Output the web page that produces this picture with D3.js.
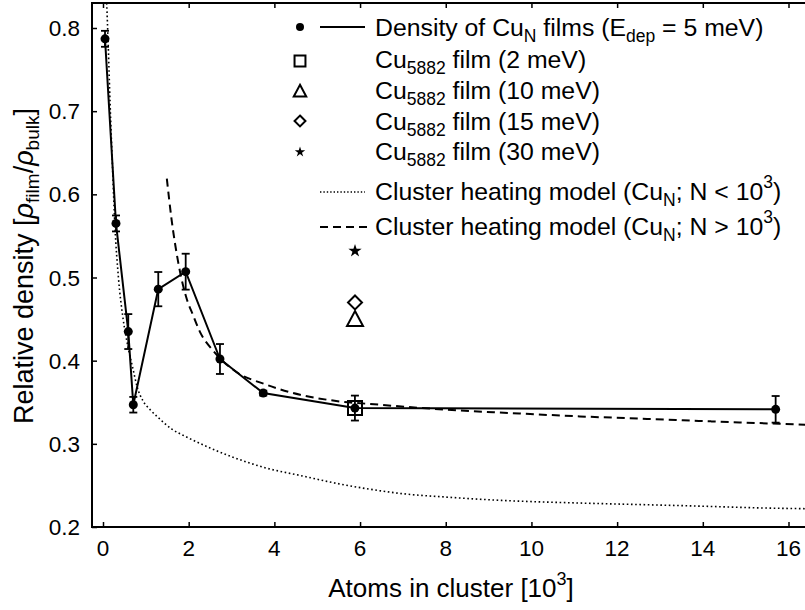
<!DOCTYPE html>
<html>
<head>
<meta charset="utf-8">
<script src="https://cdn.jsdelivr.net/npm/d3@7"></script>
<style>
  html, body { margin: 0; padding: 0; background: #fff; }
  svg { display: block; font-family: "Liberation Sans", Arial, Helvetica, sans-serif; }
</style>
</head>
<body>
<svg id="chart" width="805" height="610"></svg>
<script>
// ---- data ----
const clusterSize = [0.047, 0.303, 0.59, 0.707, 1.29, 1.93, 2.73, 3.74, 5.88, 15.70];   // 10^3 atoms
const density     = [0.787, 0.565, 0.435, 0.347, 0.486, 0.507, 0.402, 0.361, 0.343, 0.3415];
const densityErr  = [0.0096, 0.0096, 0.021, 0.0094, 0.0206, 0.0216, 0.018, 0.003, 0.015, 0.016];

const energyLabels = ["2 meV", "10 meV", "15 meV", "30 meV"];
const energyN      = [5.882, 5.882, 5.882, 5.882];
const energyDens   = [0.343, 0.450, 0.470, 0.532];
const energySymbol = ["square", "triangle", "diamond", "star"];

const modelSmallN = [0.086,0.117,0.165,0.22,0.28,0.36,0.47,0.59,0.70,0.80,0.93,1.1,1.26,1.6,1.96,2.5,3.03,3.8,4.6,5.4,6.16,7.0,8.0,9.3,11,12.5,14,15.3,16.4];
const modelSmallY = [0.83,0.787,0.71,0.635,0.56,0.50,0.45,0.415,0.39,0.368,0.352,0.341,0.333,0.318,0.308,0.295,0.284,0.271,0.262,0.253,0.246,0.240,0.236,0.232,0.229,0.227,0.225,0.223,0.222];

const modelLargeN = [1.49,1.6,1.76,1.95,2.1,2.26,2.57,3.04,3.82,4.6,5.37,6.47,8.02,9.5,11.13,12.7,14.2,16.4];
const modelLargeY = [0.619,0.57,0.517,0.475,0.455,0.435,0.412,0.389,0.371,0.359,0.352,0.347,0.341,0.337,0.333,0.330,0.327,0.323];

const xTicks = [0, 2, 4, 6, 8, 10, 12, 14, 16];
const yTicks = [0.2, 0.3, 0.4, 0.5, 0.6, 0.7, 0.8];

// ---- layout ----
const svg = d3.select("#chart");
const pLeft = 92, pRight = 805, pTop = 3, pBottom = 527;
const x = d3.scaleLinear().domain([0, 16]).range([103, 788.5]);
const y = d3.scaleLinear().domain([0.2, 0.8]).range([527, 28]);

svg.append("defs").append("clipPath").attr("id", "clip")
  .append("rect").attr("x", pLeft).attr("y", pTop).attr("width", pRight - pLeft).attr("height", pBottom - pTop);

// frame
svg.append("path").attr("d", `M${pRight},${pTop}H${pLeft}V${pBottom}H${pRight}`)
  .attr("stroke", "#000").attr("stroke-width", 2).attr("fill", "none");

// axes (ticks inward)
const gxB = svg.append("g").attr("transform", `translate(0,${pBottom})`)
  .call(d3.axisTop(x).tickValues(xTicks).tickSize(5).tickFormat(""));
gxB.select(".domain").remove();
const gxT = svg.append("g").attr("transform", `translate(0,${pTop})`)
  .call(d3.axisBottom(x).tickValues(xTicks).tickSize(5).tickFormat(""));
gxT.select(".domain").remove();
const gyL = svg.append("g").attr("transform", `translate(${pLeft},0)`)
  .call(d3.axisRight(y).tickValues(yTicks).tickSize(5).tickFormat(""));
gyL.select(".domain").remove();
svg.selectAll(".tick line").attr("stroke", "#000").attr("stroke-width", 1.5);

// tick labels
svg.append("g").selectAll("text").data(xTicks).join("text")
  .attr("x", d => x(d)).attr("y", 556).attr("text-anchor", "middle")
  .attr("font-size", 22.5).text(d => d);
svg.append("g").selectAll("text").data(yTicks).join("text")
  .attr("x", 80).attr("y", d => y(d) + 8).attr("text-anchor", "end")
  .attr("font-size", 22.5).text(d => d.toFixed(1));

// axis titles
const xt = svg.append("text").attr("x", 451).attr("y", 597).attr("text-anchor", "middle").attr("font-size", 26);
xt.append("tspan").text("Atoms in cluster [10");
xt.append("tspan").attr("dy", -12).attr("font-size", 18).text("3");
xt.append("tspan").attr("dy", 12).text("]");

const yt = svg.append("text").attr("transform", "translate(33,266) rotate(-90)").attr("text-anchor", "middle").attr("font-size", 27);
yt.append("tspan").text("Relative density [");
yt.append("tspan").attr("font-style", "italic").text("ρ");
yt.append("tspan").attr("dy", 6).attr("font-size", 19).text("film");
yt.append("tspan").attr("dy", -6).text("/");
yt.append("tspan").attr("font-style", "italic").text("ρ");
yt.append("tspan").attr("dy", 6).attr("font-size", 19).text("bulk");
yt.append("tspan").attr("dy", -6).text("]");

const plot = svg.append("g").attr("clip-path", "url(#clip)");

// model curves
const smallPts = modelSmallN.map((n, i) => [n, modelSmallY[i]]);
const largePts = modelLargeN.map((n, i) => [n, modelLargeY[i]]);
const curve = d3.line().x(d => x(d[0])).y(d => y(d[1])).curve(d3.curveMonotoneX);
plot.append("path").attr("d", curve(smallPts)).attr("fill", "none").attr("stroke", "#000")
  .attr("stroke-width", 1.6).attr("stroke-dasharray", "1.6,2.6");
plot.append("path").attr("d", curve(largePts)).attr("fill", "none").attr("stroke", "#000")
  .attr("stroke-width", 2).attr("stroke-dasharray", "8,5");

// main series
const mainPts = clusterSize.map((n, i) => [n, density[i], densityErr[i]]);
const straight = d3.line().x(d => x(d[0])).y(d => y(d[1]));
plot.append("path").attr("d", straight(mainPts)).attr("fill", "none").attr("stroke", "#000").attr("stroke-width", 2);

const eb = plot.append("g").attr("stroke", "#000").attr("stroke-width", 1.8);
mainPts.forEach(d => {
  const cx = x(d[0]), y1 = y(d[1] + d[2]), y2 = y(d[1] - d[2]);
  eb.append("line").attr("x1", cx).attr("x2", cx).attr("y1", y1).attr("y2", y2);
  eb.append("line").attr("x1", cx - 4).attr("x2", cx + 4).attr("y1", y1).attr("y2", y1);
  eb.append("line").attr("x1", cx - 4).attr("x2", cx + 4).attr("y1", y2).attr("y2", y2);
});
plot.append("g").selectAll("circle").data(mainPts).join("circle")
  .attr("cx", d => x(d[0])).attr("cy", d => y(d[1])).attr("r", 4.5).attr("fill", "#000");

// symbol helpers
function symbolPath(kind) {
  switch (kind) {
    case "square": return "M-7,-7H7V7H-7Z";
    case "triangle": return "M0,-8L8,7H-8Z";
    case "diamond": return "M0,-7L7,0L0,7L-7,0Z";
    case "star": return d3.symbol(d3.symbolStar, 55)();
  }
}
function drawSymbol(g, kind, cx, cy, scale = 1) {
  const p = g.append("path").attr("d", symbolPath(kind))
    .attr("transform", `translate(${cx},${cy}) scale(${scale})`);
  if (kind === "star") p.attr("fill", "#000");
  else p.attr("fill", "none").attr("stroke", "#000").attr("stroke-width", 2 / scale);
}

energyDens.forEach((v, i) => drawSymbol(plot, energySymbol[i], x(energyN[i]), y(v)));

// legend
const lg = svg.append("g");
const tx = 375;
function legendText(yb, parts) {
  const t = lg.append("text").attr("x", tx).attr("y", yb).attr("font-size", 24.8);
  let shift = 0;
  parts.forEach(p => {
    const dy = (p.dy || 0) - shift;
    const ts = t.append("tspan").attr("dy", dy).text(p.t);
    if (p.small) ts.attr("font-size", 17.5);
    shift = p.dy || 0;
  });
}
// row 1
lg.append("circle").attr("cx", 300).attr("cy", 27).attr("r", 4).attr("fill", "#000");
lg.append("line").attr("x1", 320).attr("x2", 365).attr("y1", 27).attr("y2", 27).attr("stroke", "#000").attr("stroke-width", 2);
legendText(36, [{t: "Density of Cu"}, {t: "N", dy: 6, small: true}, {t: " films (E"}, {t: "dep", dy: 6, small: true}, {t: " = 5 meV)"}]);
const rowsY = [61, 91, 121, 152];
const rowsB = [68, 99, 130, 160];
energyLabels.forEach((lab, i) => {
  drawSymbol(lg, energySymbol[i], 300, rowsY[i], 0.78);
  legendText(rowsB[i], [{t: "Cu"}, {t: "5882", dy: 6, small: true}, {t: " film (" + lab + ")"}]);
});
// model rows
lg.append("line").attr("x1", 320).attr("x2", 365).attr("y1", 192).attr("y2", 192).attr("stroke", "#000")
  .attr("stroke-width", 1.4).attr("stroke-dasharray", "1.4,2");
legendText(200, [{t: "Cluster heating model (Cu"}, {t: "N", dy: 6, small: true}, {t: "; N < 10"}, {t: "3", dy: -12, small: true}, {t: ")"}]);
lg.append("line").attr("x1", 320).attr("x2", 367).attr("y1", 227).attr("y2", 227).attr("stroke", "#000")
  .attr("stroke-width", 2).attr("stroke-dasharray", "8,5");
legendText(235, [{t: "Cluster heating model (Cu"}, {t: "N", dy: 6, small: true}, {t: "; N > 10"}, {t: "3", dy: -12, small: true}, {t: ")"}]);
</script>
</body>
</html>
